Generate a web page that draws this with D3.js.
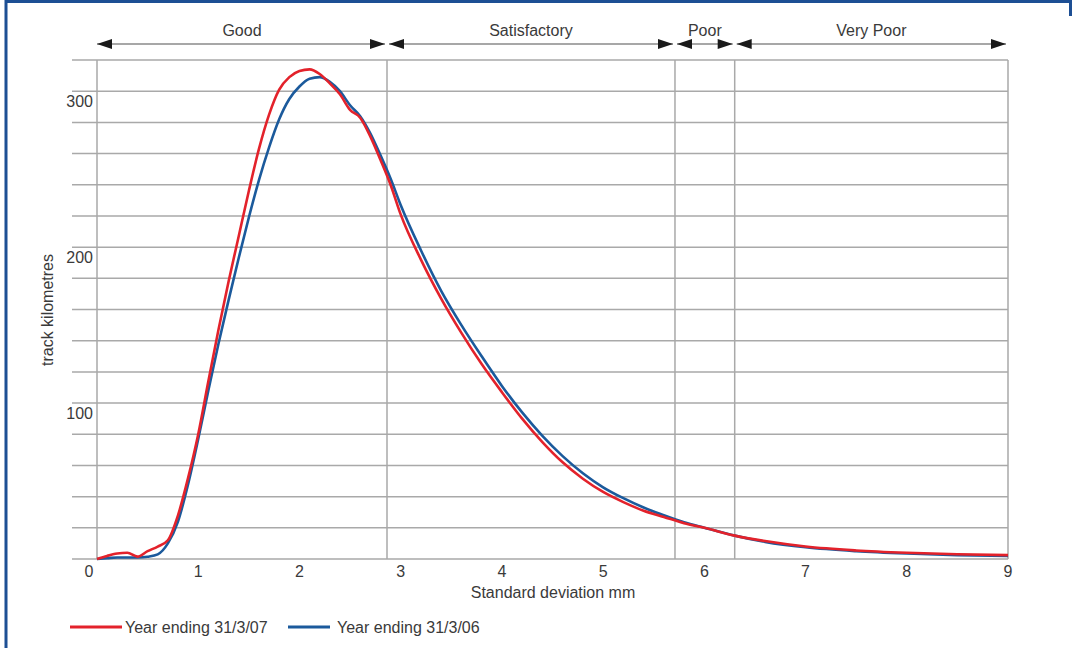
<html>
<head>
<meta charset="utf-8" />
<title>Track quality distribution</title>
<script src="https://cdn.jsdelivr.net/npm/d3@7"></script>
<style>
body { margin: 0; background: #fff; }
text { font-family: "Liberation Sans", Arial, sans-serif; fill: #3a3a3a; }
</style>
</head>
<body>
<script>

// standard deviation (mm) sample points
var sdX = [0, 0.1, 0.2, 0.3, 0.4, 0.5, 0.6, 0.7, 0.8, 0.9, 1.0, 1.1, 1.2, 1.3, 1.4, 1.5, 1.6, 1.7, 1.8, 1.9,
	2.0, 2.1, 2.2, 2.3, 2.4, 2.5, 2.6, 2.7, 2.8, 2.9, 3.0, 3.2, 3.4, 3.6, 3.8, 4.0, 4.2, 4.4, 4.6, 4.8,
	5.0, 5.2, 5.4, 5.6, 5.8, 6.0, 6.3, 6.6, 7.0, 7.5, 8.0, 8.5, 9.0];

// track kilometres
var year07 = [0, 2, 3.5, 4, 1.5, 5, 8, 12, 28, 52, 80, 114, 147, 178, 207, 236, 263, 285, 301, 309,
	313, 314, 311, 305, 298, 288, 283, 271, 256, 240, 221, 192, 167, 145, 125, 107, 90, 75, 62, 51.5,
	43, 36.5, 31, 27, 23, 20, 15, 11.5, 8, 5.5, 4, 3, 2.5];
var year06 = [0, 0.5, 1, 1, 1, 1.5, 3, 10, 24, 48, 77, 108, 138, 166, 193, 219, 243, 264, 282, 295,
	303, 308, 309, 306, 300, 291, 284, 273, 259, 244, 227, 198, 172, 150, 130, 111, 94, 79, 66, 55,
	46, 39, 33, 28, 23.5, 20, 15, 11, 7.5, 5, 3.5, 2.5, 2];

var bands = ["Good", "Satisfactory", "Poor", "Very Poor"];
var bandEdges = [0, 2.865, 5.71, 6.3, 9];

var xTicks = [0, 1, 2, 3, 4, 5, 6, 7, 8, 9];
var yLabels = [100, 200, 300];

var seriesNames = ["Year ending 31/3/07", "Year ending 31/3/06"];
var seriesColors = ["#e3222b", "#1b5a9c"];

var W = 1072, H = 648;
var svg = d3.select("body").append("svg").attr("width", W).attr("height", H);

// panel border (blue)
svg.append("path").attr("d", "M6,648 V1.5 H1070.5 V16").attr("fill", "none")
	.attr("stroke", "#1d4f94").attr("stroke-width", 3);

var x = d3.scaleLinear().domain([0, 9]).range([97, 1008]);
var y = d3.scaleLinear().domain([0, 320]).range([559, 60]);

// horizontal grid
svg.append("g").selectAll("line").data(d3.range(0, 321, 20)).join("line")
	.attr("x1", 72).attr("x2", x(9))
	.attr("y1", d => y(d)).attr("y2", d => y(d))
	.attr("stroke", "#a9a9a9").attr("stroke-width", 1.5);

// vertical band dividers
svg.append("g").selectAll("line").data(bandEdges).join("line")
	.attr("x1", d => x(d)).attr("x2", d => x(d))
	.attr("y1", y(320)).attr("y2", y(0))
	.attr("stroke", "#a9a9a9").attr("stroke-width", 1.5);

var fs = 16;

// y labels sit just under their gridline
svg.append("g").selectAll("text").data(yLabels).join("text")
	.attr("x", 93).attr("y", d => y(d) + 16)
	.attr("text-anchor", "end").attr("font-size", fs)
	.text(d => d);

// x labels
svg.append("g").selectAll("text").data(xTicks).join("text")
	.attr("x", d => d == 0 ? x(d) - 8 : x(d))
	.attr("y", 577).attr("text-anchor", "middle").attr("font-size", fs)
	.text(d => d);

svg.append("text").attr("x", 553).attr("y", 598).attr("text-anchor", "middle")
	.attr("font-size", fs).text("Standard deviation mm");

svg.append("text").attr("transform", "translate(53,310) rotate(-90)")
	.attr("text-anchor", "middle").attr("font-size", fs).text("track kilometres");

// band arrows
var arrowY = 44;
bands.forEach(function(b, i) {
	var x0 = x(bandEdges[i]) + (i == 0 ? 0 : 2), x1 = x(bandEdges[i + 1]) - 2;
	svg.append("line").attr("x1", x0).attr("x2", x1).attr("y1", arrowY).attr("y2", arrowY)
		.attr("stroke", "#8a8a8a").attr("stroke-width", 1.5);
	svg.append("path").attr("d", `M${x0},${arrowY} l15,-5 v10 z`).attr("fill", "#1a1a1a");
	svg.append("path").attr("d", `M${x1},${arrowY} l-15,-5 v10 z`).attr("fill", "#1a1a1a");
	svg.append("text").attr("x", (x(bandEdges[i]) + x(bandEdges[i + 1])) / 2).attr("y", 36)
		.attr("text-anchor", "middle").attr("font-size", fs).text(b);
});

var line = d3.line().x((d, i) => x(sdX[i])).y(d => y(d)).curve(d3.curveMonotoneX);

[year06, year07].forEach(function(s, k) {
	svg.append("path").datum(s).attr("d", line).attr("fill", "none")
		.attr("stroke", seriesColors[1 - k]).attr("stroke-width", 2.6);
});

// legend
var legX = [70, 288];
seriesNames.forEach(function(n, i) {
	svg.append("line").attr("x1", legX[i]).attr("x2", legX[i] + 42 + (i == 0 ? 10 : 0))
		.attr("y1", 627).attr("y2", 627)
		.attr("stroke", seriesColors[i]).attr("stroke-width", 3);
	svg.append("text").attr("x", legX[i] + (i == 0 ? 55 : 49)).attr("y", 633)
		.attr("font-size", fs).text(n);
});

</script>
</body>
</html>
